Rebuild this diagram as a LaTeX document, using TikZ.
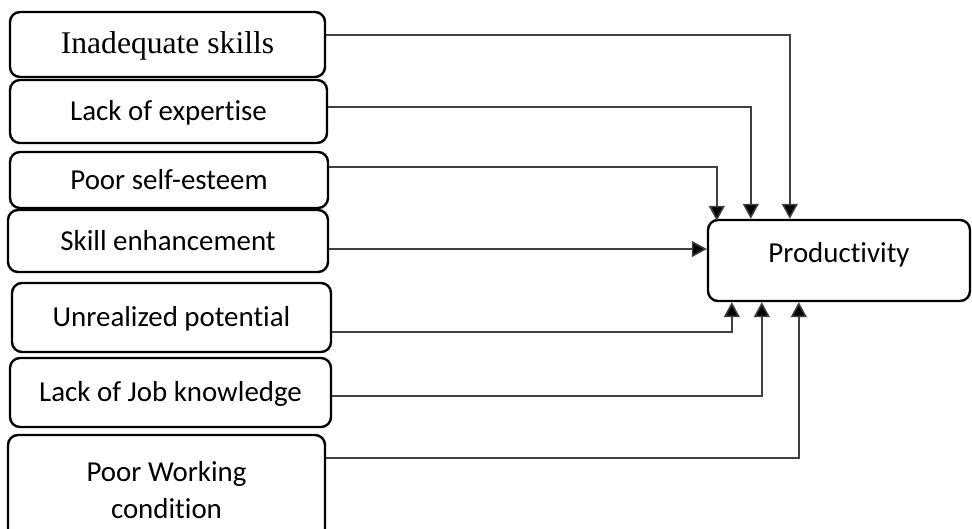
\documentclass[tikz,border=0pt]{standalone}
\usepackage{fontspec}
\setmainfont[Ligatures=NoCommon]{Carlito}
\newfontfamily\timesf{Liberation Serif}
\usetikzlibrary{arrows.meta,calc}
\begin{document}
\begin{tikzpicture}[x=1pt,y=-1pt,
  boxbase/.style={draw=black,line width=2.4pt,rounded corners=10pt,inner sep=0pt,font=\fontsize{28.9}{37}\selectfont},
  box/.style={boxbase,text height=18.6pt,text depth=0pt},
  conn/.style={draw=black!75,line width=1.5pt,-{Triangle[length=15pt,width=16pt,fill=black]}}]
\useasboundingbox (0,0) rectangle (972,529);
\clip (0,0) rectangle (972,529);
\node[box,minimum width=315pt,minimum height=65pt] (b1) at (167.5,44.5) {\timesf\fontsize{31.6}{38}\selectfont Inadequate skills};
\node[box,minimum width=317pt,minimum height=63pt] (b2) at (168.5,111.5) {Lack of expertise};
\node[box,minimum width=318pt,minimum height=56pt] (b3) at (169,180) {Poor self-esteem};
\node[box,minimum width=320pt,minimum height=62pt] (b4) at (168,241) {Skill enhancement};
\node[box,minimum width=319pt,minimum height=69pt] (b5) at (171.5,317.5) {Unrealized potential};
\node[box,minimum width=321pt,minimum height=69pt] (b6) at (170.5,392.5) {Lack of Job knowledge};
\node[boxbase,align=center,minimum width=317pt,minimum height=110pt] (b7) at (166.5,490) {Poor Working\\condition};
\node[box,text depth=15pt,minimum width=262pt,minimum height=81pt] (P) at (839,260.5) {Productivity};
\draw[conn] ($(b1.east)+(0,-9.5)$) -| ($(P.north west)+(83,0)$);
\draw[conn] ($(b2.east)+(0,-4.5)$) -| ($(P.north west)+(44,0)$);
\draw[conn] ($(b3.east)+(0,-13)$) -| ($(P.north west)+(10,2)$);
\draw[conn] ($(b4.east)+(0,8)$) -- ($(P.west)+(0,-11.5)$);
\draw[conn] ($(b5.east)+(0,14.5)$) -| ($(P.south west)+(25,0)$);
\draw[conn] ($(b6.east)+(0,3.5)$) -| ($(P.south west)+(55,0)$);
\draw[conn] ($(b7.east)+(0,-32)$) -| ($(P.south west)+(92,0)$);
\end{tikzpicture}
\end{document}
